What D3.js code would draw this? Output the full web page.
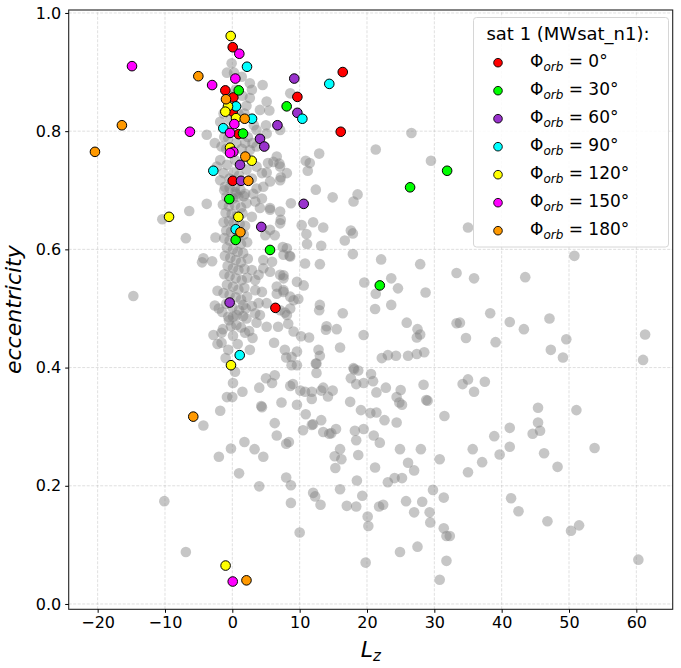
<!DOCTYPE html>
<html>
<head>
<meta charset="utf-8">
<script src="https://cdn.jsdelivr.net/npm/d3@7/dist/d3.min.js"></script>
<style>
  html, body { margin: 0; padding: 0; background: #fff; }
  svg { display: block; font-family: "DejaVu Sans", sans-serif; }
</style>
</head>
<body>
<svg id="chart" width="681" height="668"></svg>
<script>
// --- data ---
const xTicks = [-20, -10, 0, 10, 20, 30, 40, 50, 60];
const yTicks = [0.0, 0.2, 0.4, 0.6, 0.8, 1.0];

// all satellites (grey background), [Lz, eccentricity]
const greyPoints = [
  // sparse region
  [26.6,0.797],[21.3,0.769],[12.9,0.762],[10.9,0.750],[29.5,0.750],[7.0,0.745],[6.1,0.748],[5.1,0.730],[7.2,0.722],
  [12.4,0.701],[14.9,0.688],[18.6,0.693],[18.0,0.681],[8.7,0.678],[5.6,0.670],[7.2,0.650],[12.0,0.646],[10.3,0.641],
  [13.5,0.637],[11.0,0.626],[17.6,0.632],[17.9,0.627],[16.7,0.615],[35.0,0.637],[11.1,0.609],[13.2,0.606],[7.5,0.604],
  [17.9,0.592],[8.5,0.589],[22.1,0.583],[27.9,0.575],[10.8,0.576],[13.0,0.575],[33.3,0.560],[23.6,0.551],[24.6,0.534],
  [19.6,0.544],[21.3,0.525],[28.7,0.527],[10.6,0.539],[9.6,0.545],[7.6,0.556],[7.6,0.528],[6.6,0.525],[9.8,0.516],
  [8.6,0.500],[7.8,0.493],[21.2,0.499],[23.6,0.506],[13.0,0.506],[12.9,0.497],[16.4,0.492],[25.9,0.476],[27.5,0.465],
  [27.9,0.456],[27.4,0.451],[33.3,0.475],[33.8,0.476],[34.7,0.450],[14.0,0.470],[13.9,0.464],[15.5,0.465],[19.5,0.455],
  [11.4,0.451],[10.2,0.453],[9.1,0.461],[8.3,0.474],[6.8,0.469],[5.1,0.469],[6.2,0.442],[16.0,0.434],[7.8,0.430],
  [9.6,0.427],[8.8,0.418],[8.0,0.417],[12.8,0.430],[13.0,0.420],[12.4,0.407],[22.2,0.416],[23.1,0.421],[24.3,0.420],
  [26.1,0.420],[27.4,0.423],[28.5,0.426],[8.8,0.404],[18.0,0.399],
  [50.8,0.589],[35.9,0.551],[43.5,0.553],[38.3,0.492],[41.2,0.477],[43.3,0.465],[47.1,0.483],[39.1,0.443],[49.6,0.448],
  [47.3,0.430],[49.1,0.417],[61.3,0.456],[61.0,0.413],[35.0,0.380],[34.2,0.372],[35.9,0.359],[37.5,0.376],[45.4,0.332],
  [51.1,0.328],
  [31.5,0.318],[45.4,0.307],[45.7,0.293],[44.6,0.288],[41.2,0.298],[38.9,0.284],[35.7,0.262],[37.1,0.240],[39.7,0.253],
  [41.2,0.266],[35.0,0.223],[46.3,0.255],[48.3,0.232],[53.8,0.264],[30.8,0.245],[31.4,0.180],[41.4,0.179],[42.5,0.157],
  [46.8,0.140],[50.3,0.124],[51.5,0.133],[60.3,0.075],[31.4,0.128],[31.8,0.115],[32.3,0.115],[31.8,0.073],[30.8,0.041],
  [4.0,0.366],[5.0,0.382],[5.9,0.374],[6.3,0.387],[4.3,0.335],[4.4,0.333],[7.3,0.341],[8.6,0.369],[9.0,0.372],
  [9.6,0.337],[10.1,0.361],[10.8,0.359],[11.8,0.359],[11.8,0.347],[13.2,0.361],[13.5,0.366],[14.9,0.361],[14.2,0.351],
  [10.9,0.321],[11.8,0.303],[12.0,0.304],[13.2,0.311],[10.5,0.294],[13.5,0.291],[14.4,0.288],[14.7,0.289],[15.4,0.296],
  [6.3,0.306],[6.6,0.285],[8.0,0.271],[8.4,0.274],[3.3,0.262],[4.6,0.249],[8.0,0.214],[8.7,0.201],[4.0,0.199],
  [8.7,0.171],[10.0,0.121],[12.0,0.188],[12.3,0.182],[13.1,0.168],[16.0,0.262],[15.2,0.250],[16.2,0.245],[15.3,0.230],
  [16.0,0.194],[17.0,0.166],[18.4,0.165],[18.5,0.209],[19.3,0.183],[18.7,0.252],[17.5,0.342],[17.6,0.382],[18.1,0.397],
  [18.7,0.395],[18.4,0.372],[19.5,0.374],[19.1,0.328],[18.2,0.293],[18.4,0.277],[19.5,0.296],[20.6,0.389],[20.9,0.377],
  [21.4,0.358],[22.8,0.366],[20.5,0.323],[21.4,0.324],[22.6,0.311],[21.0,0.285],[21.9,0.273],[21.2,0.231],[24.4,0.350],
  [24.8,0.341],[25.2,0.337],[25.0,0.362],[24.4,0.307],[24.9,0.262],[26.1,0.239],[27.0,0.226],[28.0,0.262],[28.4,0.371],
  [28.8,0.345],[29.0,0.344],[23.1,0.206],[24.1,0.213],[25.2,0.213],[25.8,0.174],[27.0,0.155],[28.2,0.173],[29.3,0.155],
  [29.4,0.138],[29.8,0.193],[21.8,0.165],[22.4,0.168],[20.1,0.148],[20.2,0.132],[24.9,0.088],[27.5,0.097],[19.8,0.070],
  [12.5,0.407],[12.5,0.391],[9.6,0.404],
  // left / low part
  [-10.1,0.174],[-6.9,0.088],[-4.3,0.302],[-1.8,0.327],[-0.8,0.350],[0.0,0.350],[1.5,0.359],[1.8,0.274],[-0.2,0.263],
  [-2.0,0.249],[1.0,0.221],[-3.8,0.677],[-6.4,0.665],[-6.9,0.619],[-4.3,0.585],[-4.5,0.578],[-2.8,0.455],[-1.6,0.459],
  [-1.6,0.442],[0.1,0.454],[1.9,0.459],[-1.0,0.416],[0.4,0.393],[0.1,0.374],[4.1,0.489],[3.6,0.476],[2.9,0.504],
  [1.6,0.487],[1.6,0.506],[-14.7,0.521],[-10.4,0.651],[-2.5,0.620],[-3.0,0.580],[-2.2,0.530],[-2.6,0.505],
  [-2.0,0.500],[-0.2,0.470],[2.0,0.500],[3.0,0.450],[-2.2,0.440],[0.8,0.440],[2.6,0.430],[-0.6,0.430],
  // right flank of the column
  [6.6,0.537],[7.6,0.531],[8.6,0.520],[9.1,0.514],[7.1,0.497],[8.1,0.489],[5.1,0.509],[4.4,0.528],[3.9,0.509],
  [3.4,0.492],[2.1,0.483],[0.65,0.489],[-0.6,0.486],[0.1,0.486],[3.4,0.531],[3.9,0.557],[3.4,0.548],[2.9,0.565],
  [4.6,0.568],[5.6,0.562],[4.6,0.582],[5.9,0.579],[7.1,0.557],[7.6,0.551],[8.6,0.588],[7.6,0.591],[8.1,0.602],
  [4.9,0.624],[5.6,0.633],[6.3,0.624],[7.1,0.644],[4.1,0.670],[2.9,0.655],[5.6,0.667],[7.1,0.664],[3.4,0.681],
  [2.1,0.678],[4.4,0.686],
  // dense core of the column
  [-1.2,0.700],[-0.4,0.704],[0.4,0.697],[1.2,0.701],[-0.9,0.689],[0.1,0.686],[0.9,0.689],[1.7,0.690],[-1.4,0.676],
  [-0.5,0.673],[0.4,0.675],[1.3,0.671],[-1.0,0.662],[-0.1,0.660],[0.7,0.657],[1.5,0.661],[-1.3,0.646],[-0.5,0.648],
  [0.2,0.645],[1.1,0.643],[1.9,0.640],[-0.9,0.632],[-0.2,0.630],[0.9,0.622],[1.7,0.625],[-1.2,0.619],[-0.4,0.615],
  [1.3,0.609],[2.2,0.612],[-0.8,0.603],[0.1,0.600],[0.8,0.596],[1.6,0.594],[-1.1,0.589],[-0.3,0.586],[0.5,0.582],
  [1.3,0.578],[2.3,0.584],[-0.7,0.572],[0.1,0.568],[0.9,0.565],[1.8,0.567],[-1.2,0.558],[-0.4,0.555],[0.5,0.551],
  [1.4,0.548],[2.2,0.552],[-0.8,0.540],[0.1,0.537],[0.9,0.532],[1.8,0.535],[-1.3,0.526],[-0.4,0.523],[0.5,0.519],
  [1.3,0.515],[2.2,0.520],[-0.9,0.508],[0.0,0.502],[1.0,0.497],[-1.5,0.494],[-0.5,0.480],[0.6,0.472],[1.3,0.468],
  [-1.4,0.465],[2.5,0.462],
  // upper part of the column
  [-0.1,0.915],[0.25,0.899],[-0.8,0.899],[1.4,0.892],[2.6,0.881],[2.9,0.870],[4.5,0.878],[5.1,0.850],[4.1,0.836],
  [5.5,0.835],[2.1,0.843],[2.6,0.856],[8.6,0.864],[5.0,0.810],[3.6,0.802],[5.1,0.796],[7.1,0.802],[-1.3,0.830],
  [-1.8,0.816],[-0.3,0.819],[-3.8,0.794],[-0.6,0.788],[-1.6,0.774],[-1.8,0.751],[-2.3,0.740],[-1.3,0.729],[-0.8,0.743],
  [0.4,0.751],[3.6,0.740],[4.4,0.729],[5.3,0.746],[6.6,0.757],[7.1,0.740],[5.6,0.715],[7.1,0.717],[8.1,0.729],
  [4.6,0.706],[3.6,0.703],[-1.8,0.717],[-1.1,0.706],[0.4,0.706],[0.6,0.694],[1.9,0.694],[3.1,0.694],[11.5,0.746],
  [11.2,0.733],[3.6,0.774],[2.6,0.768],[1.9,0.780],[0.5,0.870],[-0.5,0.860],[1.5,0.860],[0.9,0.830],[1.8,0.830],
  [-0.4,0.800],[0.6,0.780],[1.4,0.770],[2.3,0.790],[-0.9,0.770],[0.2,0.730],[1.0,0.725],[2.1,0.735],[-0.4,0.720],
  [2.9,0.720],[3.2,0.810],[3.0,0.780],[-2.6,0.780],[-1.2,0.790]
];

// sat 1 (MWsat_n1) for each orbital phase
const phaseLabels = ["0", "30", "60", "90", "120", "150", "180"];
const phaseLz = [
  [0.06, -1.04, 0.15, 0.06, 0.95, 0.06, 9.66, 16.4, 16.1, 6.4],
  [0.95, 1.59, 8.07, -0.45, 0.5, 5.6, 26.4, 31.9, 21.9],
  [9.2, 9.66, 6.7, 4.11, 4.75, 1.14, 1.29, 10.6, 4.3, -0.4],
  [2.18, 14.4, 0.55, 10.4, 2.93, -1.34, -2.82, 0.5, 1.1],
  [-0.24, -0.64, -1.04, 0.55, -0.34, 2.88, 0.9, -9.4, -0.2, -1.0],
  [1.04, 0.45, -3.0, -14.9, 0.3, -6.3, -0.34, 0.15, -0.34, 0.06],
  [-5.05, -0.94, 1.84, -16.4, -20.4, 1.93, 2.38, 1.2, -5.8, 2.1]
];
const phaseEcc = [
  [0.942, 0.869, 0.857, 0.833, 0.795, 0.716, 0.858, 0.900, 0.799, 0.501],
  [0.869, 0.796, 0.842, 0.685, 0.616, 0.599, 0.705, 0.733, 0.539],
  [0.889, 0.831, 0.810, 0.787, 0.774, 0.743, 0.716, 0.677, 0.638, 0.510],
  [0.909, 0.880, 0.842, 0.821, 0.821, 0.805, 0.733, 0.634, 0.421],
  [0.961, 0.842, 0.833, 0.822, 0.772, 0.750, 0.655, 0.655, 0.404, 0.065],
  [0.931, 0.889, 0.878, 0.910, 0.812, 0.799, 0.797, 0.765, 0.763, 0.038],
  [0.893, 0.854, 0.821, 0.810, 0.765, 0.757, 0.716, 0.629, 0.317, 0.040]
];
const phaseColors = ["#ff0000", "#00ff00", "#9932cc", "#00ffff", "#ffff00", "#ff00ff", "#ff9900"];

// --- layout ---
const W = 681, H = 668;
const margin = { top: 10, right: 8.3, bottom: 58.7, left: 68.7 };
const svg = d3.select("#chart");

const x = d3.scaleLinear().domain([-24.3, 65.4]).range([margin.left, W - margin.right]);
const y = d3.scaleLinear().domain([-0.009, 1.005]).range([H - margin.bottom, margin.top]);

// grid
const grid = svg.append("g").attr("stroke", "#b0b0b0").attr("stroke-opacity", 0.5)
  .attr("stroke-width", 0.8).attr("stroke-dasharray", "3,1.5");
grid.selectAll(".gx").data(xTicks).join("line")
  .attr("x1", d => x(d)).attr("x2", d => x(d))
  .attr("y1", y.range()[0]).attr("y2", y.range()[1]);
grid.selectAll(".gy").data(yTicks).join("line")
  .attr("y1", d => y(d)).attr("y2", d => y(d))
  .attr("x1", x.range()[0]).attr("x2", x.range()[1]);

// grey background points
svg.append("g").selectAll("circle")
  .data(greyPoints).join("circle")
  .attr("cx", d => x(d[0])).attr("cy", d => y(d[1]))
  .attr("r", 5.3)
  .attr("fill", "#808080").attr("fill-opacity", 0.45);

// coloured points, one group per phase
phaseLabels.forEach((lab, i) => {
  const pts = phaseLz[i].map((lz, j) => [lz, phaseEcc[i][j]]);
  svg.append("g").selectAll("circle")
    .data(pts).join("circle")
    .attr("cx", d => x(d[0])).attr("cy", d => y(d[1]))
    .attr("r", 4.8)
    .attr("fill", phaseColors[i])
    .attr("stroke", "#000").attr("stroke-width", 1);
});

// frame
svg.append("rect")
  .attr("x", x.range()[0]).attr("y", y.range()[1])
  .attr("width", x.range()[1] - x.range()[0]).attr("height", y.range()[0] - y.range()[1])
  .attr("fill", "none").attr("stroke", "#222").attr("stroke-width", 1.1);

// axes
const xAxis = svg.append("g")
  .attr("transform", `translate(0,${y.range()[0]})`)
  .call(d3.axisBottom(x).tickValues(xTicks).tickSize(3.5).tickPadding(4).tickFormat(d3.format("d")));
const yAxis = svg.append("g")
  .attr("transform", `translate(${x.range()[0]},0)`)
  .call(d3.axisLeft(y).tickValues(yTicks).tickSize(3.5).tickPadding(4).tickFormat(d3.format(".1f")));
[xAxis, yAxis].forEach(a => {
  a.select(".domain").remove();
  a.selectAll("text").attr("font-family", "DejaVu Sans").attr("font-size", 16).attr("fill", "#000");
  a.selectAll("line").attr("stroke", "#000");
});

// axis labels
const xl = svg.append("text")
  .attr("x", (x.range()[0] + x.range()[1]) / 2).attr("y", 657)
  .attr("text-anchor", "middle").attr("font-size", 22).attr("font-style", "italic");
xl.append("tspan").text("L");
xl.append("tspan").attr("font-size", 15).attr("dy", 4).text("z");

svg.append("text")
  .attr("transform", `translate(21,${(y.range()[0] + y.range()[1]) / 2}) rotate(-90)`)
  .attr("text-anchor", "middle").attr("font-size", 22).attr("font-style", "italic")
  .text("eccentricity");

// legend
const lg = svg.append("g");
lg.append("rect")
  .attr("x", 473.5).attr("y", 17.5).attr("width", 195).attr("height", 229.5).attr("rx", 3)
  .attr("fill", "#fff").attr("fill-opacity", 0.85)
  .attr("stroke", "#d6d6d6").attr("stroke-width", 1);
lg.append("text")
  .attr("x", 568).attr("y", 40).attr("text-anchor", "middle")
  .attr("font-size", 18).text("sat 1 (MWsat_n1):");
phaseLabels.forEach((lab, i) => {
  const cy = 62.7 + i * 28;
  lg.append("circle").attr("cx", 498).attr("cy", cy).attr("r", 4.3)
    .attr("fill", phaseColors[i]).attr("stroke", "#000").attr("stroke-width", 0.9);
  const t = lg.append("text").attr("x", 530).attr("y", cy + 4.6).attr("font-size", 17);
  t.append("tspan").text("Φ");
  t.append("tspan").attr("font-size", 12).attr("font-style", "italic").attr("dy", 4).text("orb");
  t.append("tspan").attr("dy", -4).text(` = ${lab}°`);
});
</script>
</body>
</html>
